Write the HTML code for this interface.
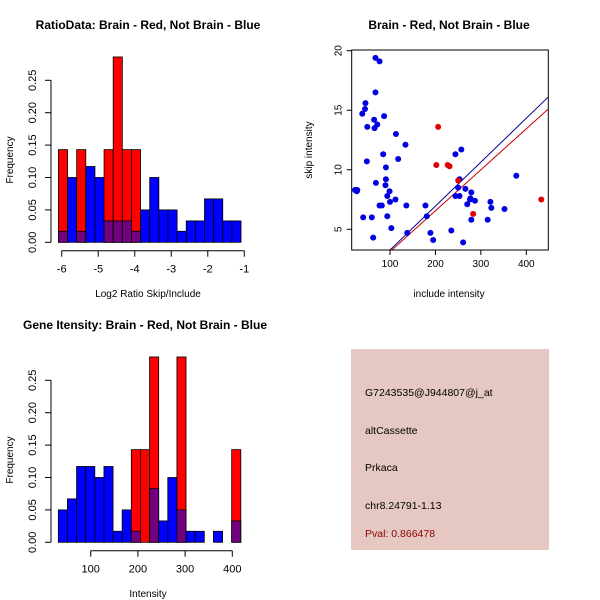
<!DOCTYPE html>
<html><head><meta charset="utf-8"><style>
html,body{margin:0;padding:0;background:#fff;}
svg{display:block;font-family:"Liberation Sans",sans-serif;}
</style></head><body>
<svg id="root" width="600" height="600" xmlns="http://www.w3.org/2000/svg">
<rect width="600" height="600" fill="#fff"/>
<g id="p1"></g>
<g id="p2"></g>
<g id="p3"></g>
<g>
<rect x="351" y="349" width="198" height="201" fill="#e5c8c1"/>
<text x="365" y="396" font-size="10.5" fill="#000">G7243535@J944807@j_at</text>
<text x="365" y="434" font-size="10.5" fill="#000">altCassette</text>
<text x="365" y="471" font-size="10.5" fill="#000">Prkaca</text>
<text x="365" y="509" font-size="10.5" fill="#000">chr8.24791-1.13</text>
<text x="365" y="537" font-size="10.5" fill="#8b0000">Pval: 0.866478</text>
</g>
</svg>
<script>
// Histogram 1 data
const h1Start = -6.09, h1Width = 0.25;
const h1Red  = [0.143,0,0.143,0,0,0.143,0.286,0.143,0.143,0,0,0,0,0,0,0,0,0,0,0];
const h1Blue = [0.017,0.10,0.017,0.117,0.10,0.033,0.033,0.033,0.017,0.05,0.10,0.05,0.05,0.017,0.033,0.033,0.067,0.067,0.033,0.033];
const h1XTicks = [-6,-5,-4,-3,-2,-1];
const yTicks = [0,0.05,0.10,0.15,0.20,0.25];
const yTickLabels = ["0.00","0.05","0.10","0.15","0.20","0.25"];
// Histogram 3 data
const h3Start = 31.4, h3Width = 19.33;
const h3Red  = [0,0,0,0,0,0,0,0,0.143,0.143,0.286,0,0,0.286,0,0,0,0,0,0.143];
const h3Blue = [0.05,0.067,0.117,0.117,0.10,0.117,0.017,0.05,0.017,0,0.083,0.033,0.10,0.05,0.017,0.017,0,0.017,0,0.033];
const h3XTicks = [100,200,300,400];
// Scatter data
const blueX = [25,27,23,28,39,45,46,50,49,41,68,77,68,65,66,72,87,60,63,69,85,91,90,91,99,94,100,77,82,94,103,112,113,118,134,136,138,178,181,189,195,235,244,257,253,250,244,253,266,279,270,276,277,287,279,261,315,321,323,352,378];
const blueY = [8.3,8.2,8.3,8.3,14.7,15.1,15.6,13.6,10.7,6.0,19.4,19.1,16.5,14.2,13.5,13.8,14.5,6.0,4.3,8.9,11.3,10.2,8.7,9.2,8.2,7.8,7.3,7.0,7.0,6.1,5.1,7.5,13.0,10.9,12.1,7.0,4.7,7.0,6.1,4.7,4.1,4.9,11.3,11.7,9.2,8.5,7.8,7.8,8.4,8.1,7.1,7.5,7.6,7.4,5.8,3.9,5.8,7.3,6.8,6.7,9.5];
const redX = [202,206,227,231,250,283,433];
const redY = [10.4,13.6,10.4,10.3,9.1,6.3,7.5];
const blueFit = [-0.43,0.0369];
const redFit = [-0.32,0.0344];
const scXTicks = [100,200,300,400];
const scYTicks = [5,10,15,20];

const NS = "http://www.w3.org/2000/svg";
function mk(parent, tag, attrs){const e=document.createElementNS(NS,tag);for(const k in attrs)e.setAttribute(k,attrs[k]);parent.appendChild(e);return e;}
function txt(parent, x,y,s,size,extra){const t=mk(parent,'text',Object.assign({x:x,y:y,'font-size':size,'text-anchor':'middle',fill:'#000'},extra||{}));t.textContent=s;return t;}

function hist(g, yOff, start, width, red, blue, xTicks, xFn, title, titleX, xlab){
  const yS = v => yOff + 242.3 - v*648;
  for(let i=0;i<red.length;i++){
    const x0=xFn(start+i*width), x1=xFn(start+(i+1)*width);
    if(red[i]>0){const r=mk(g,'rect',{x:x0,y:yS(red[i]),width:x1-x0,height:yS(0)-yS(red[i]),fill:'#ff0000',stroke:'#000','stroke-width':0.8});
      
      }
    if(blue[i]>0){const ov=Math.min(red[i],blue[i]);
      if(blue[i]>red[i]){const b=mk(g,'rect',{x:x0,y:yS(blue[i]),width:x1-x0,height:yS(0)-yS(blue[i]),fill:'#0000ff',stroke:'#000','stroke-width':0.8});
        
        }
      if(ov>0){const p=mk(g,'rect',{x:x0,y:yS(ov),width:x1-x0,height:yS(0)-yS(ov),fill:'#73007f',stroke:'#000','stroke-width':0.8});
        
        }
    }
  }
  // y axis
  mk(g,'line',{x1:51,x2:51,y1:yS(0),y2:yS(0.25),stroke:'#000'});
  yTicks.forEach((v,i)=>{mk(g,'line',{x1:45,x2:51,y1:yS(v),y2:yS(v),stroke:'#000'});
    const t=txt(g,0,0,yTickLabels[i],11,{transform:`translate(36,${yS(v)}) rotate(-90)`});
    
    });
  // x axis
  const axY=yOff+250.7;
  mk(g,'line',{x1:xFn(xTicks[0]),x2:xFn(xTicks[xTicks.length-1]),y1:axY,y2:axY,stroke:'#000'});
  xTicks.forEach(v=>{mk(g,'line',{x1:xFn(v),x2:xFn(v),y1:axY,y2:axY+6,stroke:'#000'});
    const t=txt(g,xFn(v),axY+22,String(v).replace('-','\u2212').replace('\u2212','-'),11);
    
    });
  const yl=txt(g,0,0,'Frequency',10,{transform:`translate(13,${yOff+160}) rotate(-90)`});
  
  
  const xl=txt(g,148,yOff+297,xlab,10);
  
  
  const tt=txt(g,titleX,yOff+29,title,12,{'font-weight':'bold'});
  
  
}
hist(document.getElementById('p1'),0,h1Start,h1Width,h1Red,h1Blue,h1XTicks,v=>61.7+(v+6)*36.52,'RatioData: Brain - Red, Not Brain - Blue',148,'Log2 Ratio Skip/Include');
hist(document.getElementById('p3'),300,h3Start,h3Width,h3Red,h3Blue,h3XTicks,v=>90.7+(v-100)*0.472,'Gene Itensity: Brain - Red, Not Brain - Blue',145,'Intensity');

// scatter
(function(){
  const g=document.getElementById('p2');
  const L=351.7,R=548.3,T=50,B=250;
  const xS=v=>390+(v-100)*0.4543, yS=v=>229.3-(v-5)*11.907;
  const clip=mk(g,'clipPath',{id:'scClip'});mk(clip,'rect',{x:L,y:T,width:R-L,height:B-T});
  const fit=(c,col,nm)=>{const l=mk(g,'line',{x1:xS(15),y1:yS(c[0]+c[1]*15),x2:xS(449),y2:yS(c[0]+c[1]*449),stroke:col,'stroke-width':1,'clip-path':'url(#scClip)'});
    
    };
  fit(blueFit,'#00008b','blue-fit-line');
  fit(redFit,'#cc0000','red-fit-line');
  blueX.forEach((x,i)=>{const c=mk(g,'circle',{cx:xS(x),cy:yS(blueY[i]),r:3,fill:'#0000e0','clip-path':'url(#scClip)'});
    
    });
  redX.forEach((x,i)=>{const c=mk(g,'circle',{cx:xS(x),cy:yS(redY[i]),r:3,fill:'#e00000','clip-path':'url(#scClip)'});
    
    });
  mk(g,'rect',{x:L,y:T,width:R-L,height:B-T,fill:'none',stroke:'#000'});
  scXTicks.forEach(v=>{mk(g,'line',{x1:xS(v),x2:xS(v),y1:B,y2:B+5,stroke:'#000'});
    const t=txt(g,xS(v),B+17,String(v),10);
    
    });
  scYTicks.forEach(v=>{mk(g,'line',{x1:L-5,x2:L,y1:yS(v),y2:yS(v),stroke:'#000'});
    const t=txt(g,0,0,String(v),10,{transform:`translate(${L-10},${yS(v)}) rotate(-90)`});
    
    });
  const xl=txt(g,449,297,'include intensity',10);
  
  
  const yl=txt(g,0,0,'skip intensity',10,{transform:`translate(312,150) rotate(-90)`});
  
  
  const tt=txt(g,449,29,'Brain - Red, Not Brain - Blue',12,{'font-weight':'bold'});
  
  
})();
</script>
</body></html>
